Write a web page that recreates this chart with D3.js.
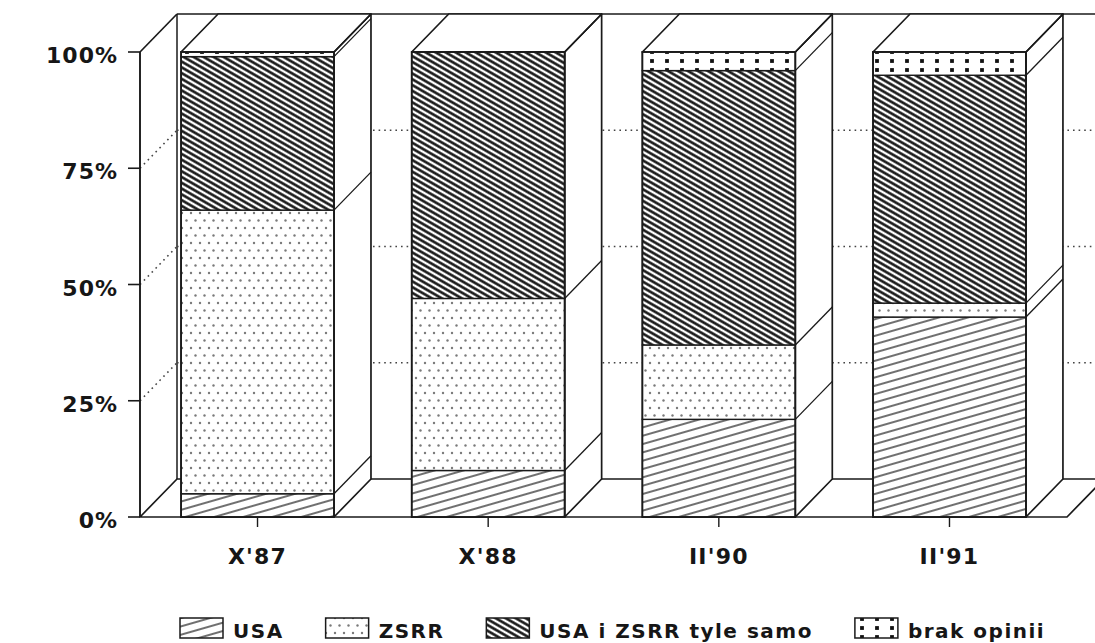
<!DOCTYPE html>
<html>
<head>
<meta charset="utf-8">
<script src="https://cdn.jsdelivr.net/npm/d3@7"></script>
<style>
  html, body { margin: 0; padding: 0; background: #fff; }
  svg { display: block; }
  text { font-family: "DejaVu Sans", "Liberation Sans", sans-serif; font-weight: bold; fill: #161616; }
</style>
</head>
<body>
<svg id="chart" width="1095" height="643"></svg>
<script>
// ---------- data ----------
const categories = ["X'87", "X'88", "II'90", "II'91"];
const seriesKeys = ["usa", "zsrr", "both", "brak"];
const seriesNames = ["USA", "ZSRR", "USA i ZSRR tyle samo", "brak opinii"];
const usa  = [5, 10, 21, 43];
const zsrr = [61, 37, 16, 3];
const both = [33, 53, 59, 49];
const brak = [1, 0, 4, 5];
const yTicks = [0, 25, 50, 75, 100];
const yTickLabels = ["0%", "25%", "50%", "75%", "100%"];
const gridValues = [25, 50, 75];

// ---------- setup ----------
const svg = d3.select("#chart");
const ink = "#1a1a1a";
const DX = 37, DY = -38;            // depth offset of the 3D box
const x = d3.scaleBand().domain(categories).range([140, 1067])
  .paddingInner(0.337).paddingOuter(0.178);
const y = d3.scaleLinear().domain([0, 100]).range([517, 52]);
const [xL, xR] = x.range();
const bw = x.bandwidth();

const table = categories.map((c, i) => ({ cat: c, usa: usa[i], zsrr: zsrr[i], both: both[i], brak: brak[i] }));
const stacked = d3.stack().keys(seriesKeys)(table);

// ---------- patterns ----------
const defs = svg.append("defs");
function linePattern(id, angle, spacing, width, color) {
  const p = defs.append("pattern").attr("id", id).attr("patternUnits", "userSpaceOnUse")
    .attr("width", spacing).attr("height", spacing).attr("patternTransform", `rotate(${angle})`);
  p.append("rect").attr("width", spacing).attr("height", spacing).attr("fill", "#fff");
  p.append("line").attr("x1", -1).attr("x2", spacing + 1).attr("y1", spacing / 2).attr("y2", spacing / 2)
    .attr("stroke", color).attr("stroke-width", width);
}
linePattern("p-usa", -16, 8, 1.3, "#222");
linePattern("p-both", 30, 5, 2.5, "#0e0e0e");
const pz = defs.append("pattern").attr("id", "p-zsrr").attr("patternUnits", "userSpaceOnUse")
  .attr("width", 9).attr("height", 15);
pz.append("rect").attr("width", 9).attr("height", 15).attr("fill", "#fff");
pz.append("circle").attr("cx", 2).attr("cy", 3).attr("r", 1.2).attr("fill", "#7a7a7a");
pz.append("circle").attr("cx", 6.5).attr("cy", 10.5).attr("r", 1.2).attr("fill", "#7a7a7a");
const pb = defs.append("pattern").attr("id", "p-brak").attr("patternUnits", "userSpaceOnUse")
  .attr("width", 15).attr("height", 9);
pb.append("rect").attr("width", 15).attr("height", 9).attr("fill", "#fff");
pb.append("rect").attr("x", 5.1).attr("y", 5.1).attr("width", 3.8).attr("height", 3.8).attr("fill", "#111");
const fillFor = { usa: "url(#p-usa)", zsrr: "url(#p-zsrr)", both: "url(#p-both)", brak: "url(#p-brak)" };

const pt = (px, py) => `${px},${py}`;

// ---------- back wall ----------
const g = svg.append("g");
g.append("polygon")
  .attr("points", [pt(xL + DX, y(100) + DY), pt(xR + DX, y(100) + DY), pt(xR + DX, y(0) + DY), pt(xL + DX, y(0) + DY)].join(" "))
  .attr("fill", "#fff").attr("stroke", "none");
g.append("line").attr("x1", xL + DX).attr("x2", xR + DX).attr("y1", y(100) + DY).attr("y2", y(100) + DY)
  .attr("stroke", ink).attr("stroke-width", 1.7);
g.append("line").attr("x1", xL + DX).attr("x2", xL + DX).attr("y1", y(100) + DY).attr("y2", y(0) + DY)
  .attr("stroke", ink).attr("stroke-width", 1.5);

// gridlines on back wall and left wall
g.selectAll(".gridBack").data(gridValues).join("line")
  .attr("x1", xL + DX).attr("x2", xR + DX)
  .attr("y1", d => y(d) + DY).attr("y2", d => y(d) + DY)
  .attr("stroke", "#444").attr("stroke-width", 1.6).attr("stroke-dasharray", "1.6,4");
g.selectAll(".gridLeft").data(gridValues).join("line")
  .attr("x1", xL).attr("x2", xL + DX)
  .attr("y1", d => y(d)).attr("y2", d => y(d) + DY)
  .attr("stroke", "#444").attr("stroke-width", 1.6).attr("stroke-dasharray", "1.6,4");

// left wall edges
g.append("line").attr("x1", xL).attr("x2", xL + DX).attr("y1", y(100)).attr("y2", y(100) + DY)
  .attr("stroke", ink).attr("stroke-width", 1.7);
g.append("line").attr("x1", xL).attr("x2", xL).attr("y1", y(100)).attr("y2", y(0))
  .attr("stroke", ink).attr("stroke-width", 1.9);

// ---------- floor ----------
g.append("polygon")
  .attr("points", [pt(xL, y(0)), pt(xR, y(0)), pt(xR + DX, y(0) + DY), pt(xL + DX, y(0) + DY)].join(" "))
  .attr("fill", "#fff").attr("stroke", ink).attr("stroke-width", 1.7).attr("stroke-linejoin", "round");

// ---------- bars ----------
categories.forEach((c, i) => {
  const x0 = x(c), x1 = x0 + bw;
  const bg = svg.append("g");
  const total = stacked[stacked.length - 1][i][1];
  const yt = y(total), yb = y(0);
  // side face
  bg.append("polygon")
    .attr("points", [pt(x1, yt), pt(x1 + DX, yt + DY), pt(x1 + DX, yb + DY), pt(x1, yb)].join(" "))
    .attr("fill", "#fff").attr("stroke", ink).attr("stroke-width", 1.7).attr("stroke-linejoin", "round");
  // top face
  bg.append("polygon")
    .attr("points", [pt(x0, yt), pt(x0 + DX, yt + DY), pt(x1 + DX, yt + DY), pt(x1, yt)].join(" "))
    .attr("fill", "#fff").attr("stroke", ink).attr("stroke-width", 1.7).attr("stroke-linejoin", "round");
  // segment boundaries on side face
  stacked.forEach(s => {
    const d = s[i];
    if (d[1] - d[0] <= 0) return;
    bg.append("line").attr("x1", x1).attr("y1", y(d[1])).attr("x2", x1 + DX).attr("y2", y(d[1]) + DY)
      .attr("stroke", ink).attr("stroke-width", 1.3);
  });
  // front segments
  stacked.forEach(s => {
    const d = s[i];
    if (d[1] - d[0] <= 0) return;
    bg.append("rect").attr("x", x0).attr("y", y(d[1])).attr("width", bw).attr("height", y(d[0]) - y(d[1]))
      .attr("fill", fillFor[s.key]).attr("stroke", ink).attr("stroke-width", 1.4);
  });
  // front outline
  bg.append("rect").attr("x", x0).attr("y", yt).attr("width", bw).attr("height", yb - yt)
    .attr("fill", "none").attr("stroke", ink).attr("stroke-width", 1.8);
});

// ---------- axes ----------
const ax = svg.append("g");
ax.selectAll(".ytick").data(yTicks).join("line")
  .attr("x1", xL - 12).attr("x2", xL).attr("y1", d => y(d)).attr("y2", d => y(d))
  .attr("stroke", ink).attr("stroke-width", 1.6);
ax.selectAll(".ylab").data(yTicks).join("text")
  .attr("x", 118).attr("y", d => y(d) + 11)
  .attr("text-anchor", "end").attr("font-size", 22).attr("letter-spacing", 1)
  .text((d, i) => yTickLabels[i]);
ax.selectAll(".xtick").data(categories).join("line")
  .attr("x1", d => x(d) + bw / 2).attr("x2", d => x(d) + bw / 2)
  .attr("y1", y(0)).attr("y2", y(0) + 10)
  .attr("stroke", ink).attr("stroke-width", 1.4);
ax.selectAll(".xlab").data(categories).join("text")
  .attr("x", d => x(d) + bw / 2).attr("y", 564)
  .attr("text-anchor", "middle").attr("font-size", 22).attr("letter-spacing", 1.2)
  .text(d => d);

// ---------- legend ----------
const lg = svg.append("g");
let lx = 180;
seriesKeys.forEach((k, i) => {
  lg.append("rect").attr("x", lx).attr("y", 618).attr("width", 43).attr("height", 20)
    .attr("fill", fillFor[k]).attr("stroke", ink).attr("stroke-width", 1.5);
  const t = lg.append("text").attr("x", lx + 53).attr("y", 638)
    .attr("font-size", 20).attr("letter-spacing", 1.5).text(seriesNames[i]);
  const w = t.node().getBBox().width;
  lx = lx + 53 + w + 42;
});
</script>
</body>
</html>
